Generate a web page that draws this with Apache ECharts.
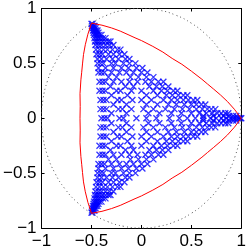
<!DOCTYPE html>
<html>
<head>
<meta charset="utf-8">
<script src="https://cdn.jsdelivr.net/npm/echarts@6/dist/echarts.min.js"></script>
<style>html,body{margin:0;padding:0;background:#fff}#c{width:249px;height:250px}</style>
</head>
<body>
<div id="c"></div>
<script>
// Tick values (both axes)
const tickValues = [-1, -0.5, 0, 0.5, 1];

// Dotted unit circle
const circlePts = [[1,0],[0.985,0.174],[0.940,0.342],[0.866,0.5],[0.766,0.643],[0.643,0.766],[0.5,0.866],[0.342,0.940],[0.174,0.985],[0,1],
 [-0.174,0.985],[-0.342,0.940],[-0.5,0.866],[-0.643,0.766],[-0.766,0.643],[-0.866,0.5],[-0.940,0.342],[-0.985,0.174],[-1,0],
 [-0.985,-0.174],[-0.940,-0.342],[-0.866,-0.5],[-0.766,-0.643],[-0.643,-0.766],[-0.5,-0.866],[-0.342,-0.940],[-0.174,-0.985],[0,-1],
 [0.174,-0.985],[0.342,-0.940],[0.5,-0.866],[0.643,-0.766],[0.766,-0.643],[0.866,-0.5],[0.940,-0.342],[0.985,-0.174],[1,0]];

// Red boundary curve
const redCurve = [[1,0],[0.931,0.082],[0.862,0.152],[0.792,0.212],[0.724,0.265],[0.662,0.312],[0.606,0.355],[0.502,0.428],[0.405,0.492],[0.308,0.545],[0.215,0.603],[0.114,0.655],[0,0.708],[-0.064,0.733],[-0.134,0.762],[-0.212,0.794],[-0.299,0.823],[-0.395,0.848],[-0.5,0.866],
 [-0.536,0.766],[-0.562,0.670],[-0.580,0.580],[-0.590,0.495],[-0.598,0.419],[-0.606,0.350],[-0.615,0.224],[-0.613,0.108],[-0.615,0],[-0.613,-0.108],[-0.615,-0.224],[-0.606,-0.350],[-0.598,-0.419],[-0.590,-0.495],[-0.580,-0.580],[-0.562,-0.670],[-0.536,-0.766],[-0.5,-0.866],
 [-0.395,-0.848],[-0.299,-0.823],[-0.212,-0.794],[-0.134,-0.762],[-0.064,-0.733],[0,-0.708],[0.114,-0.655],[0.215,-0.603],[0.308,-0.545],[0.405,-0.492],[0.502,-0.428],[0.606,-0.355],[0.662,-0.312],[0.724,-0.265],[0.792,-0.212],[0.862,-0.152],[0.931,-0.082],[1,0]];

// Blue points, upper half rows: [y, xs]
const blueUpper = [
 [0.86, [-0.50,-0.49]],
 [0.84, [-0.495,-0.48,-0.47]],
 [0.82, [-0.49,-0.475,-0.46]],
 [0.80, [-0.485,-0.47,-0.455,-0.44]],
 [0.78, [-0.48,-0.46,-0.445,-0.43]],
 [0.76, [-0.475,-0.455,-0.44,-0.42,-0.40]],
 [0.73, [-0.47,-0.45,-0.43,-0.41,-0.385,-0.36]],
 [0.70, [-0.465,-0.445,-0.42,-0.39,-0.36,-0.33,-0.31]],
 [0.667,[-0.46,-0.43,-0.40,-0.36,-0.32,-0.28]],
 [0.625,[-0.455,-0.42,-0.38,-0.34,-0.29,-0.24,-0.21]],
 [0.583,[-0.45,-0.42,-0.39,-0.33,-0.28,-0.22,-0.17]],
 [0.54, [-0.44,-0.40,-0.35,-0.29,-0.23,-0.16,-0.12]],
 [0.50, [-0.44,-0.41,-0.38,-0.30,-0.26,-0.18,-0.12,-0.06]],
 [0.458,[-0.43,-0.36,-0.28,-0.20,-0.13,-0.05,0.01]],
 [0.417,[-0.43,-0.40,-0.37,-0.30,-0.22,-0.15,-0.08,0.0,0.06]],
 [0.375,[-0.33,-0.25,-0.11,-0.03,0.05,0.12]],
 [0.333,[-0.42,-0.39,-0.36,-0.28,-0.20,-0.12,-0.04,0.04,0.10,0.17,0.22]],
 [0.29, [-0.31,-0.16,-0.08,0.08,0.15,0.21,0.27]],
 [0.25, [-0.42,-0.39,-0.36,-0.25,-0.21,-0.10,0.0,0.12,0.20,0.26,0.32,0.36]],
 [0.21, [-0.30,-0.14,0.05,0.16,0.25,0.31,0.37,0.42,0.46]],
 [0.167,[-0.41,-0.38,-0.35,-0.24,-0.20,-0.09,0.0,0.10,0.22,0.30,0.36,0.42,0.47,0.52,0.56]],
 [0.125,[-0.28,-0.15,0.05,0.16,0.27,0.35,0.43,0.50,0.55,0.60,0.64]],
 [0.083,[-0.41,-0.38,-0.35,-0.23,-0.19,-0.10,0.02,0.12,0.24,0.33,0.41,0.48,0.55,0.61,0.66,0.70,0.74]],
 [0.045,[-0.30,-0.15,0.07,0.18,0.30,0.40,0.50,0.58,0.65,0.71,0.76,0.80,0.84,0.87]],
 [0.02, [0.62,0.72,0.82,0.88,0.92,0.95]],
 [0.0,  [-0.40,-0.37,-0.34,-0.22,-0.18,-0.05,0.05,0.15,0.28,0.38,0.46,0.54,0.62,0.69,0.75,0.80,0.85,0.89,0.92,0.95,0.97,0.99,1.0]]
];

// Blue points, lower half rows: [y, xs]
const blueLower = [
 [-0.02, [0.62,0.72,0.82,0.88,0.92,0.95]],
 [-0.045,[-0.30,-0.15,0.07,0.18,0.30,0.40,0.50,0.58,0.65,0.71,0.76,0.80,0.84,0.87]],
 [-0.083,[-0.41,-0.38,-0.35,-0.23,-0.19,-0.10,0.02,0.12,0.24,0.33,0.41,0.48,0.55,0.61,0.66,0.70,0.74]],
 [-0.125,[-0.28,-0.15,0.05,0.16,0.27,0.35,0.43,0.50,0.55,0.60,0.64]],
 [-0.167,[-0.41,-0.38,-0.35,-0.24,-0.20,-0.09,0.0,0.10,0.22,0.30,0.36,0.42,0.47,0.52,0.56]],
 [-0.21, [-0.30,-0.14,0.05,0.16,0.25,0.31,0.37,0.42,0.46]],
 [-0.25, [-0.42,-0.39,-0.36,-0.25,-0.21,-0.10,0.0,0.12,0.20,0.26,0.32,0.36]],
 [-0.29, [-0.31,-0.16,-0.08,0.08,0.15,0.21,0.27]],
 [-0.333,[-0.42,-0.39,-0.36,-0.28,-0.20,-0.12,-0.04,0.04,0.10,0.17,0.22]],
 [-0.375,[-0.33,-0.25,-0.11,-0.03,0.05,0.12]],
 [-0.417,[-0.43,-0.40,-0.37,-0.30,-0.22,-0.15,-0.08,0.0,0.06]],
 [-0.458,[-0.43,-0.36,-0.28,-0.20,-0.13,-0.05,0.01]],
 [-0.50, [-0.44,-0.41,-0.38,-0.30,-0.26,-0.18,-0.12,-0.06]],
 [-0.54, [-0.44,-0.40,-0.35,-0.29,-0.23,-0.16,-0.12]],
 [-0.583,[-0.45,-0.42,-0.39,-0.33,-0.28,-0.22,-0.17]],
 [-0.625,[-0.455,-0.42,-0.38,-0.34,-0.29,-0.24,-0.21]],
 [-0.667,[-0.46,-0.43,-0.40,-0.36,-0.32,-0.28]],
 [-0.70, [-0.465,-0.445,-0.42,-0.39,-0.36,-0.33,-0.31]],
 [-0.73, [-0.47,-0.45,-0.43,-0.41,-0.385,-0.36]],
 [-0.76, [-0.475,-0.455,-0.44,-0.42,-0.40]],
 [-0.78, [-0.48,-0.46,-0.445,-0.43]],
 [-0.80, [-0.485,-0.47,-0.455,-0.44]],
 [-0.82, [-0.49,-0.475,-0.46]],
 [-0.84, [-0.495,-0.48,-0.47]],
 [-0.86, [-0.50,-0.49]]
];

const bluePts = [];
blueUpper.concat(blueLower).forEach(([y, xs]) => xs.forEach(x => bluePts.push([x, y])));

const fmt = v => (v < 0 ? '\u2212' + Math.abs(v) : String(v));
const labelFont = {fontFamily: 'Liberation Sans', fontSize: 17, color: '#000'};
function axis(pos, show) {
  return {
    type: 'value', position: pos, min: -1, max: 1, interval: 0.5,
    axisLine: {show: true, onZero: false, lineStyle: {color: '#000', width: 1}},
    axisTick: {show: true, inside: true, length: 3, lineStyle: {color: '#000'}},
    splitLine: {show: false},
    axisLabel: Object.assign({show: show, formatter: fmt, margin: show ? 5 : 0}, labelFont)
  };
}

const chart = echarts.init(document.getElementById('c'), null, {renderer: 'canvas'});
chart.setOption({
  animation: false,
  backgroundColor: '#fff',
  grid: {left: 33, right: 5, top: 8, bottom: 19, containLabel: false},
  xAxis: [axis('bottom', true), axis('top', false)],
  yAxis: [axis('left', true), axis('right', false)],
  series: [
    {type: 'line', data: circlePts, smooth: 0.5, symbol: 'none', xAxisIndex: 0, yAxisIndex: 0,
     lineStyle: {color: '#555', width: 1, type: [1, 3]}},
    {type: 'line', data: redCurve, symbol: 'none', xAxisIndex: 0, yAxisIndex: 0,
     lineStyle: {color: '#ff0000', width: 1}},
    {type: 'scatter', data: bluePts, xAxisIndex: 0, yAxisIndex: 0,
     symbol: 'path://M0,0L10,10M10,0L0,10', symbolSize: 6,
     itemStyle: {color: 'rgba(0,0,0,0)', borderColor: '#0000ff', borderWidth: 1.3}}
  ]
});
</script>
</body>
</html>
